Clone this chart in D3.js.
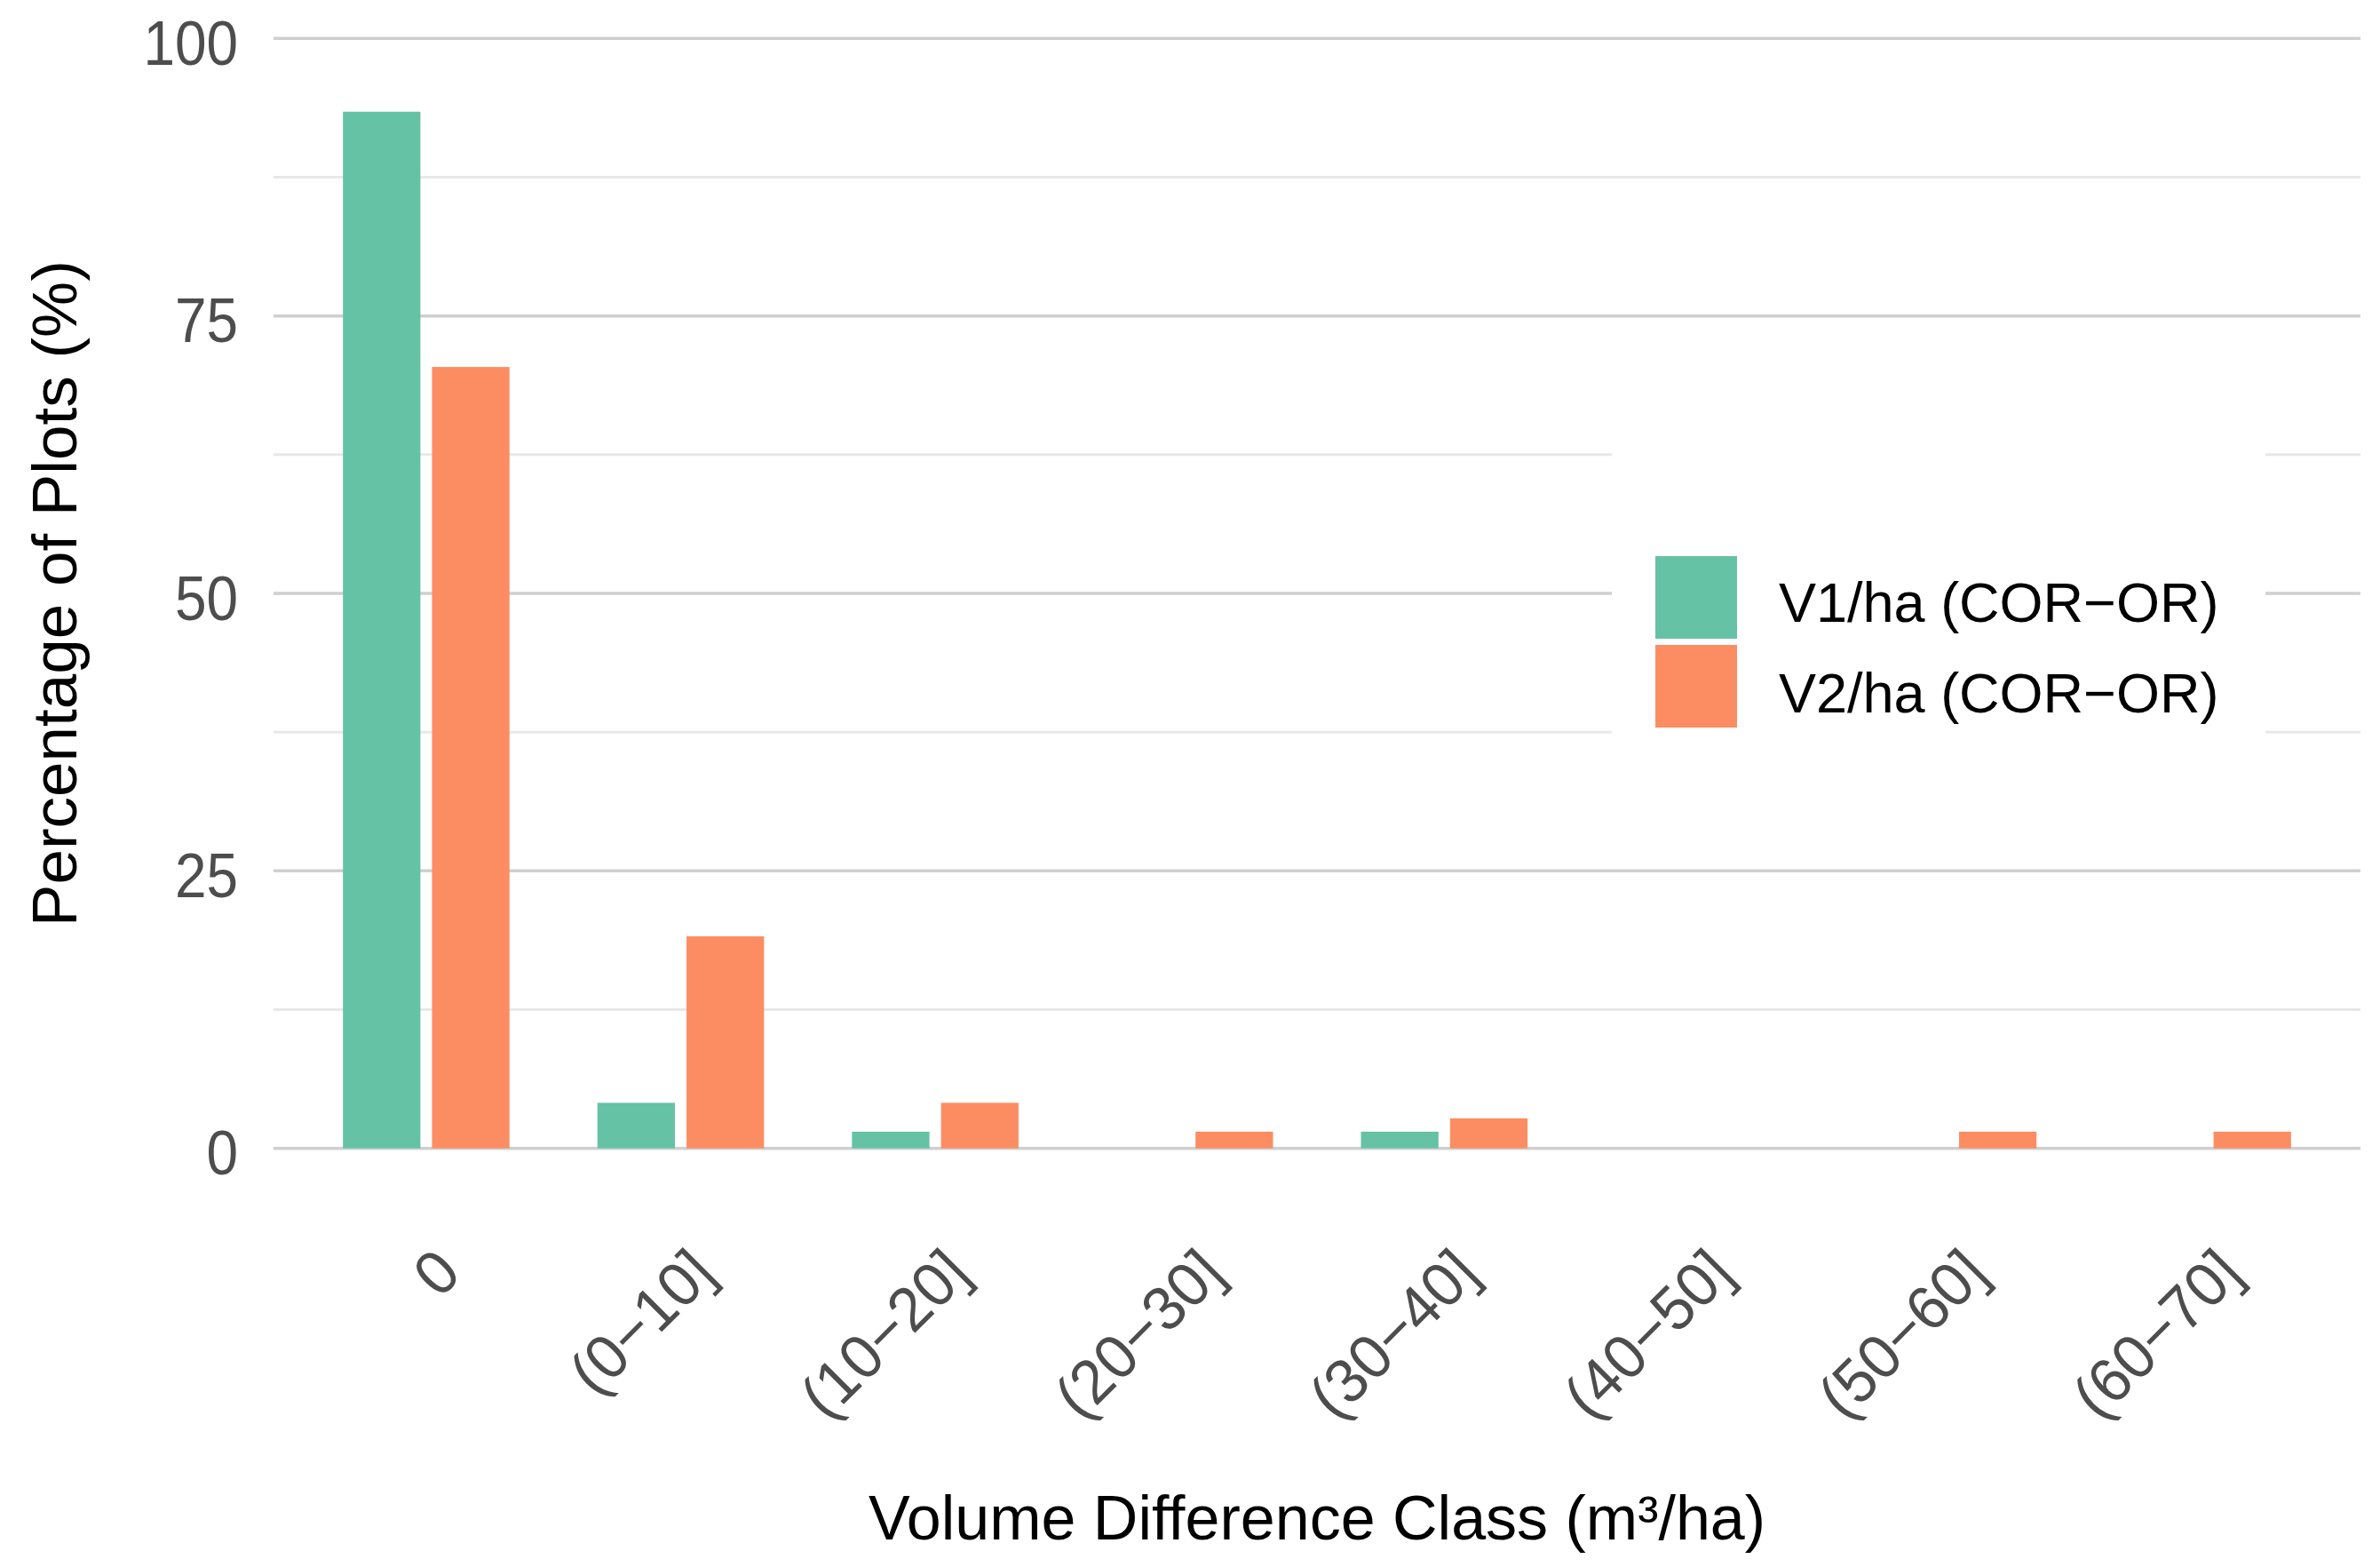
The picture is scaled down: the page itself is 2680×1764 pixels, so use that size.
<!DOCTYPE html>
<html>
<head>
<meta charset="utf-8">
<script src="https://cdn.jsdelivr.net/npm/d3@7"></script>
<style>
  html, body { margin: 0; padding: 0; background: #ffffff; }
  svg { display: block; }
  text { font-family: "Liberation Sans", Arial, sans-serif; }
</style>
</head>
<body>
<script>
// ---- data ----
const categories = ["0", "(0\u221210]", "(10\u221220]", "(20\u221230]", "(30\u221240]", "(40\u221250]", "(50\u221260]", "(60\u221270]"];
const seriesNames = ["V1/ha (COR\u2212OR)", "V2/ha (COR\u2212OR)"];
const v1Values = [93.4, 4.1, 1.5, 0, 1.5, 0, 0, 0];
const v2Values = [70.4, 19.1, 4.1, 1.5, 2.7, 0, 1.5, 1.5];
const majorTicks = [0, 25, 50, 75, 100];
const minorTicks = [12.5, 37.5, 62.5, 87.5];
const seriesColors = ["#66C2A5", "#FC8D62"];
const xTitle = "Volume Difference Class (m\u00B3/ha)";
const yTitle = "Percentage of Plots (%)";

// ---- layout ----
const W = 2680, H = 1764;
const plotL = 308, plotR = 2658, plotT = 43.3, plotB = 1292.7;

const svg = d3.select("body").append("svg")
  .attr("width", W).attr("height", H)
  .attr("viewBox", `0 0 ${W} ${H}`);
svg.append("rect").attr("width", W).attr("height", H).attr("fill", "#ffffff");

const x = d3.scaleBand().domain(categories).range([plotL, plotR])
  .paddingInner(0).paddingOuter(0.1);
const bw = x.bandwidth();
const xSub = d3.scaleBand().domain(seriesNames).range([bw * 0.15, bw * 0.85]);
const barW = xSub.bandwidth() * 0.87;
const y = d3.scaleLinear().domain([0, 100]).range([plotB, plotT]);
const color = d3.scaleOrdinal().domain(seriesNames).range(seriesColors);

// ---- gridlines ----
const grid = svg.append("g");
grid.selectAll("line.minor").data(minorTicks).join("line")
  .attr("class", "minor")
  .attr("x1", plotL).attr("x2", plotR)
  .attr("y1", d => y(d)).attr("y2", d => y(d))
  .attr("stroke", "#E8E8E8").attr("stroke-width", 3);
grid.selectAll("line.major").data(majorTicks).join("line")
  .attr("class", "major")
  .attr("x1", plotL).attr("x2", plotR)
  .attr("y1", d => y(d)).attr("y2", d => y(d))
  .attr("stroke", "#CFCFCF").attr("stroke-width", 3.5);

// ---- bars ----
const rows = [];
categories.forEach((c, i) => {
  rows.push({ cat: c, s: seriesNames[0], v: v1Values[i] });
  rows.push({ cat: c, s: seriesNames[1], v: v2Values[i] });
});
svg.append("g").selectAll("rect").data(rows.filter(d => d.v > 0)).join("rect")
  .attr("x", d => x(d.cat) + xSub(d.s) + (xSub.bandwidth() - barW) / 2)
  .attr("width", barW)
  .attr("y", d => y(d.v))
  .attr("height", d => y(0) - y(d.v))
  .attr("fill", d => color(d.s));

// ---- y axis ----
const yAxis = svg.append("g")
  .attr("transform", `translate(${plotL},0)`)
  .call(d3.axisLeft(y).tickValues(majorTicks).tickSize(0).tickPadding(0));
yAxis.select(".domain").remove();
yAxis.selectAll(".tick line").remove();
yAxis.selectAll(".tick text")
  .attr("x", 0).attr("dy", null)
  .attr("transform", "translate(-40,29) scale(0.9,1)")
  .attr("text-anchor", "end")
  .attr("fill", "#4D4D4D")
  .style("font-size", "71px")
  .style("font-family", "'Liberation Sans', Arial, sans-serif");

// ---- x axis ----
const xAxis = svg.append("g")
  .attr("transform", `translate(0,${plotB})`)
  .call(d3.axisBottom(x).tickSize(0).tickPadding(0));
xAxis.select(".domain").remove();
xAxis.selectAll(".tick line").remove();
xAxis.selectAll(".tick text")
  .attr("y", 0)
  .attr("transform", "translate(6,108) rotate(-45) scale(0.97,1)")
  .attr("dy", "0.72em")
  .attr("text-anchor", "end")
  .attr("fill", "#4D4D4D")
  .style("font-size", "70px")
  .style("font-family", "'Liberation Sans', Arial, sans-serif");

// ---- titles ----
svg.append("text")
  .attr("x", (plotL + plotR) / 2).attr("y", 1733)
  .attr("text-anchor", "middle")
  .attr("fill", "#000000")
  .style("font-size", "70px")
  .text(xTitle);
svg.append("text")
  .attr("transform", `translate(86,${(plotT + plotB) / 2}) rotate(-90)`)
  .attr("text-anchor", "middle")
  .attr("fill", "#000000")
  .style("font-size", "71px")
  .text(yTitle);

// ---- legend ----
const lg = svg.append("g");
lg.append("rect").attr("x", 1815).attr("y", 500).attr("width", 736).attr("height", 445)
  .attr("fill", "#ffffff");
const legendRows = seriesNames.map((s, i) => ({ s, i }));
lg.selectAll("rect.key").data(legendRows).join("rect")
  .attr("class", "key")
  .attr("x", 1864).attr("y", d => 626 + d.i * 100)
  .attr("width", 92).attr("height", 93)
  .attr("fill", d => color(d.s));
lg.selectAll("text").data(legendRows).join("text")
  .attr("x", 2003).attr("y", d => 700 + d.i * 102)
  .attr("fill", "#000000")
  .style("font-size", "63px")
  .text(d => d.s);
</script>
</body>
</html>
